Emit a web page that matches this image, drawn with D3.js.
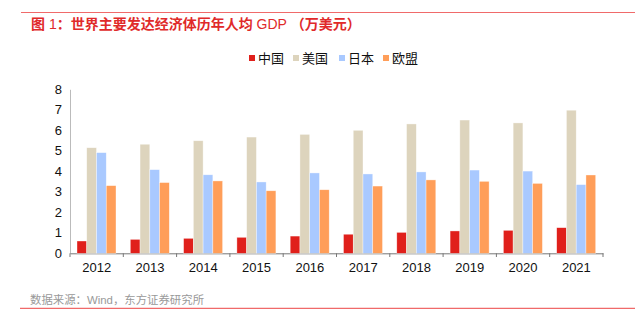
<!DOCTYPE html>
<html>
<head>
<meta charset="utf-8">
<script src="https://cdn.jsdelivr.net/npm/d3@7"></script>
<style>
  body { margin: 0; background: #fff; }
  text { font-family: "Liberation Sans", "Noto Sans CJK SC", sans-serif; }
</style>
</head>
<body>
<div id="chart"></div>
<script>
var years = ["2012", "2013", "2014", "2015", "2016", "2017", "2018", "2019", "2020", "2021"];
var seriesNames = ["中国", "美国", "日本", "欧盟"];
var china = [0.60, 0.68, 0.73, 0.78, 0.84, 0.93, 1.02, 1.09, 1.12, 1.25];
var usa = [5.15, 5.32, 5.49, 5.67, 5.80, 6.00, 6.31, 6.50, 6.36, 6.98];
var japan = [4.91, 4.08, 3.83, 3.48, 3.92, 3.87, 3.97, 4.06, 4.01, 3.35];
var eu = [3.30, 3.45, 3.53, 3.05, 3.10, 3.28, 3.58, 3.51, 3.41, 3.82];
var yTicks = [0, 1, 2, 3, 4, 5, 6, 7, 8];

var colors = ["#e0201b", "#ddd4bd", "#a9c9ff", "#ff9e59"];
var series = [china, usa, japan, eu];

var w = 635, h = 332;
var svg = d3.select("#chart").append("svg")
  .attr("width", w)
  .attr("height", h);

// title + rules
svg.append("line")
  .attr("x1", 21).attr("x2", w).attr("y1", 12.5).attr("y2", 12.5)
  .attr("stroke", "#f06a6a").attr("stroke-width", 1);
var title = svg.append("text")
  .attr("x", 31).attr("y", 29)
  .attr("fill", "#e02a2a")
  .attr("font-size", "14px")
  .attr("font-weight", "bold");
title.append("tspan").text("图 ");
title.append("tspan").attr("font-weight", "normal").text("1");
title.append("tspan").text("：世界主要发达经济体历年人均 ");
title.append("tspan").attr("font-weight", "normal").text("GDP");
title.append("tspan").text(" （万美元）");

svg.append("line")
  .attr("x1", 20).attr("x2", w).attr("y1", 308.3).attr("y2", 308.3)
  .attr("stroke", "#f06a6a").attr("stroke-width", 1.2);
svg.append("text")
  .attr("x", 30).attr("y", 304)
  .attr("fill", "#999")
  .attr("font-size", "11.4px")
  .text("数据来源：Wind，东方证券研究所");

// scales
var x0 = d3.scaleBand().domain(years).range([70, 603]).paddingInner(0).paddingOuter(0);
var x1 = d3.scaleBand().domain(d3.range(4)).range([7, x0.bandwidth() - 7.3]).padding(0);
var y = d3.scaleLinear().domain([0, 8]).range([253.3, 89.3]);

// axes
var yAxis = svg.append("g")
  .attr("transform", "translate(70,0)")
  .call(d3.axisLeft(y).tickValues(yTicks).tickSize(0).tickPadding(8));
yAxis.select(".domain").attr("stroke", "#bbb");
yAxis.selectAll("text").attr("font-size", "13px").attr("fill", "#111");

var xAxis = svg.append("g")
  .attr("transform", "translate(0,253.3)")
  .call(d3.axisBottom(x0).tickSize(0).tickPadding(9));
xAxis.select(".domain").attr("stroke", "#777");
xAxis.selectAll("text").attr("font-size", "13px").attr("fill", "#111");

// tick marks at category boundaries
var bounds = years.map(function(d) { return x0(d); }).concat([x0.range()[1]]);
svg.append("g").selectAll("line")
  .data(bounds)
  .enter().append("line")
  .attr("x1", function(d) { return d; })
  .attr("x2", function(d) { return d; })
  .attr("y1", 253.3).attr("y2", 257)
  .attr("stroke", "#777");

// bars
series.forEach(function(vals, si) {
  svg.append("g").selectAll("rect")
    .data(vals)
    .enter().append("rect")
    .attr("x", function(d, i) { return x0(years[i]) + x1(si); })
    .attr("y", function(d) { return y(d); })
    .attr("width", x1.bandwidth())
    .attr("height", function(d) { return y(0) - y(d); })
    .attr("fill", colors[si])
    .attr("stroke", "#fff")
    .attr("stroke-opacity", 0.6)
    .attr("stroke-width", 0.6);
});

// legend
var legendX = [249, 293, 339, 383];
var legend = svg.append("g");
seriesNames.forEach(function(name, i) {
  legend.append("rect")
    .attr("x", legendX[i]).attr("y", 55)
    .attr("width", 6).attr("height", 6)
    .attr("fill", colors[i]);
  legend.append("text")
    .attr("x", legendX[i] + 9).attr("y", 63)
    .attr("font-size", "13px")
    .attr("fill", "#111")
    .text(name);
});
</script>
</body>
</html>
